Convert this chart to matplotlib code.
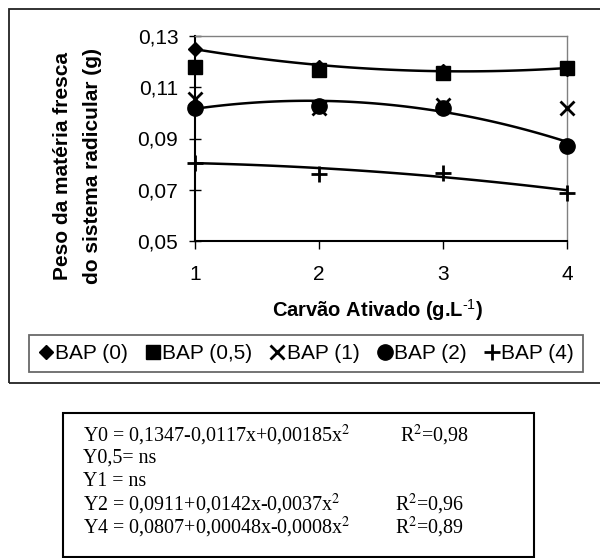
import numpy as np
import matplotlib
matplotlib.use('Agg')
import matplotlib.pyplot as plt
from matplotlib.patches import Rectangle
from matplotlib.lines import Line2D

plt.rcParams['font.family'] = ['Liberation Sans', 'DejaVu Sans']
plt.rcParams['mathtext.fontset'] = 'custom'
plt.rcParams['mathtext.rm'] = 'Liberation Sans'
plt.rcParams['mathtext.bf'] = 'Liberation Sans:bold'

# doses de carvão ativado (g/L)
carvao = [1, 2, 3, 4]

# peso da matéria fresca do sistema radicular (g) por dose de BAP
bap_0 = [0.125, 0.118, 0.1165, 0.117]
bap_05 = [0.118, 0.1167, 0.1155, 0.1175]
bap_1 = [0.1053, 0.1018, 0.103, 0.1019]
bap_2 = [0.1018, 0.1026, 0.1019, 0.0869]
bap_4 = [0.0806, 0.0763, 0.0764, 0.0689]

# coeficientes das regressões quadráticas (a + b*x + c*x^2)
coef_0 = (0.1347, -0.0117, 0.00185)
coef_2 = (0.0911, 0.0142, -0.0037)
coef_4 = (0.0807, 0.00048, -0.0008)

legendas = ['BAP (0)', 'BAP (0,5)', 'BAP (1)', 'BAP (2)', 'BAP (4)']
y_ticks = [0.05, 0.07, 0.09, 0.11, 0.13]

equacoes = ['Y0 = 0,1347-0,0117x+0,00185x$^2$',
            'Y0,5= ns',
            'Y1 = ns',
            'Y2 = 0,0911+0,0142x-0,0037x$^2$',
            'Y4 = 0,0807+0,00048x-0,0008x$^2$']
r2 = ['R$^2$=0,98', '', '', 'R$^2$=0,96', 'R$^2$=0,89']

W, H = 600, 558
fig = plt.figure(figsize=(W / 100, H / 100), dpi=100)

def px(x, y):
    return x / W, 1 - y / H

# moldura externa do gráfico
fig.patches.append(Rectangle(px(9, 383), (620 - 9) / W, (383 - 9) / H,
                             transform=fig.transFigure, fill=False,
                             edgecolor='#222222', lw=1.3))

ax = fig.add_axes([195 / W, 1 - 241 / H, (567 - 195) / W, (241 - 36) / H])

marker_kw = dict(color='black', linestyle='none', clip_on=False, zorder=3)
ax.plot(carvao, bap_0, marker='D', ms=7.5, **marker_kw)
ax.plot(carvao, bap_05, marker='s', ms=10, **marker_kw)
ax.plot(carvao, bap_1, marker='x', ms=10, mew=2, **marker_kw)
ax.plot(carvao, bap_2, marker='o', ms=11, **marker_kw)
ax.plot(carvao, bap_4, marker='+', ms=12, mew=2, **marker_kw)

xs = np.linspace(1, 4, 100)
for a, b, c in (coef_0, coef_2, coef_4):
    ax.plot(xs, a + b * xs + c * xs ** 2, color='black', lw=1.8, zorder=4)

ax.set_xlim(1, 4)
ax.set_ylim(0.05, 0.13)
ax.set_xticks(carvao)
ax.set_xticklabels([str(v) for v in carvao])
ax.set_yticks(y_ticks)
ax.set_yticklabels([f'{v:.2f}'.replace('.', ',') for v in y_ticks])
ax.tick_params(axis='y', direction='inout', length=8, width=1, labelsize=15, pad=8)
ax.tick_params(axis='x', direction='out', length=6, width=1, labelsize=15, pad=11)

for s in ('top', 'right'):
    ax.spines[s].set_color('#808080')
    ax.spines[s].set_linewidth(1)
for s in ('left', 'bottom'):
    ax.spines[s].set_color('black')
    ax.spines[s].set_linewidth(1.5)

# títulos dos eixos
fig.text(*px(63, 166), 'Peso da matéria fresca', rotation=90, ha='center',
         va='center', fontsize=15, fontweight='bold')
fig.text(*px(93, 166), 'do sistema radicular (g)', rotation=90, ha='center',
         va='center', fontsize=15, fontweight='bold')
fig.text(*px(378, 310), r'Carvão Ativado (g.L$^{\mathbf{\text{-1}}}$)', ha='center',
         va='center', fontsize=14.5, fontweight='bold')

# legenda
handles = [
    Line2D([], [], color='black', ls='none', marker='D', ms=7.5),
    Line2D([], [], color='black', ls='none', marker='s', ms=10),
    Line2D([], [], color='black', ls='none', marker='x', ms=10, mew=2),
    Line2D([], [], color='black', ls='none', marker='o', ms=11),
    Line2D([], [], color='black', ls='none', marker='+', ms=12, mew=2),
]
x0, y0 = px(29, 374)
x1, y1 = px(583, 333)
leg = fig.legend(handles, legendas, loc='center', ncol=5,
                 bbox_to_anchor=(x0, y0, x1 - x0, y1 - y0), mode='expand',
                 fontsize=15, handlelength=0.7, handletextpad=0.1,
                 columnspacing=0.6, borderaxespad=0, fancybox=False,
                 borderpad=0.45, frameon=True)
leg.get_frame().set_edgecolor('#444444')
leg.get_frame().set_linewidth(1.3)

# quadro com as equações de regressão
fig.patches.append(Rectangle(px(63, 557), (534 - 63) / W, (557 - 413) / H,
                             transform=fig.transFigure, fill=False,
                             edgecolor='black', lw=1.5))
for i, (eq, r) in enumerate(zip(equacoes, r2)):
    y = 435 + i * 23
    fig.text(*px(83, y), eq, ha='left', va='center', fontsize=14.4,
             family='Liberation Serif', math_fontfamily='stix')
    if r:
        fig.text(*px(395 if i else 400, y), r, ha='left', va='center',
                 fontsize=14.4, family='Liberation Serif', math_fontfamily='stix')

fig.savefig('out.png', dpi=100)
